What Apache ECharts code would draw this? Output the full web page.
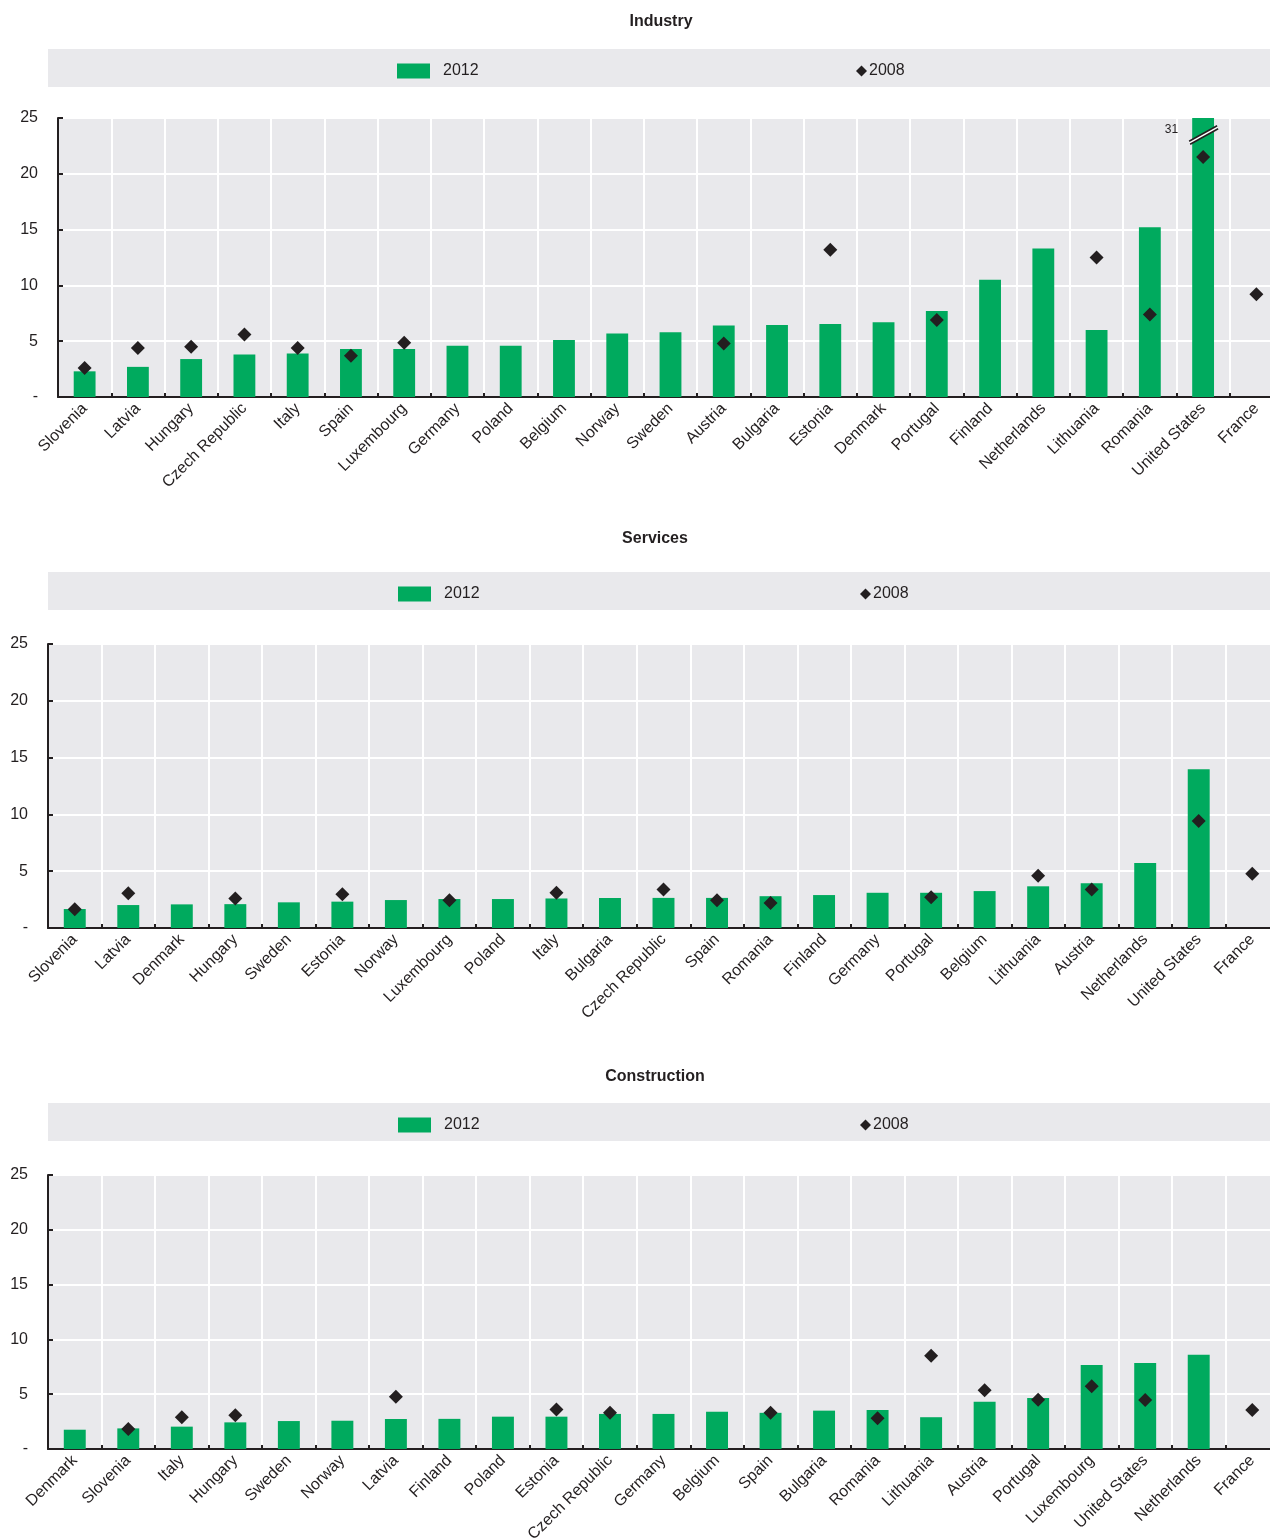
<!DOCTYPE html>
<html><head><meta charset="utf-8">
<script src="https://cdn.jsdelivr.net/npm/echarts@6/dist/echarts.min.js"></script>
<style>html,body{margin:0;padding:0;background:#fff;overflow:hidden}#c{width:1270px;height:1538px}</style>
</head><body><div id="c"></div>
<script>
// ---- Data ----
const indCats = ['Slovenia','Latvia','Hungary','Czech Republic','Italy','Spain','Luxembourg','Germany','Poland','Belgium','Norway','Sweden','Austria','Bulgaria','Estonia','Denmark','Portugal','Finland','Netherlands','Lithuania','Romania','United States','France'];
const ind2012 = [2.3,2.7,3.4,3.8,3.9,4.3,4.3,4.6,4.6,5.1,5.7,5.8,6.4,6.45,6.55,6.7,7.7,10.5,13.3,6.0,15.2,31,null];
const ind2008 = [2.6,4.4,4.5,5.6,4.4,3.7,4.85,null,null,null,null,null,4.8,null,13.2,null,6.9,null,null,12.5,7.4,21.5,9.2];

const srvCats = ['Slovenia','Latvia','Denmark','Hungary','Sweden','Estonia','Norway','Luxembourg','Poland','Italy','Bulgaria','Czech Republic','Spain','Romania','Finland','Germany','Portugal','Belgium','Lithuania','Austria','Netherlands','United States','France'];
const srv2012 = [1.67,2.02,2.08,2.1,2.26,2.32,2.46,2.55,2.55,2.6,2.64,2.65,2.65,2.8,2.9,3.1,3.1,3.25,3.67,3.93,5.72,13.97,null];
const srv2008 = [1.65,3.05,null,2.6,null,2.96,null,2.45,null,3.1,null,3.4,2.45,2.2,null,null,2.7,null,4.6,3.4,null,9.42,4.78];

const conCats = ['Denmark','Slovenia','Italy','Hungary','Sweden','Norway','Latvia','Finland','Poland','Estonia','Czech Republic','Germany','Belgium','Spain','Bulgaria','Romania','Lithuania','Austria','Portugal','Luxembourg','United States','Netherlands','France'];
const con2012 = [1.76,1.88,2.04,2.43,2.55,2.58,2.74,2.75,2.95,2.95,3.2,3.2,3.4,3.3,3.5,3.56,2.9,4.3,4.65,7.66,7.85,8.6,null];
const con2008 = [null,1.82,2.89,3.07,null,null,4.77,null,null,3.6,3.3,null,null,3.3,null,2.8,8.5,5.35,4.5,5.72,4.47,null,3.56];

const yTicks = [0,5,10,15,20,25];
const panelTitles = ['Industry','Services','Construction'];

// ---- Styles ----
const FONT = '"Liberation Sans", Arial, sans-serif';
const GREEN = '#00aa5e';
const DARK = '#231f20';
const BG = '#e9e9ec';
const TXT = '#231f20';

const panels = [
  {cats: indCats, v12: ind2012, v08: ind2008, left: 58, right: -13, top: 118, height: 279, titleY: 9, bandY: 49, leg12: 392, leg08: 851, titleX: 656},
  {cats: srvCats, v12: srv2012, v08: srv2008, left: 48, right: -9, top: 644, height: 284, titleY: 526, bandY: 572, leg12: 393, leg08: 855, titleX: 650},
  {cats: conCats, v12: con2012, v08: con2008, left: 48, right: -9, top: 1175, height: 274, titleY: 1064, bandY: 1103, leg12: 393, leg08: 855, titleX: 650}
];

const grid = [], xAxis = [], yAxis = [], series = [], legend = [], title = [], graphic = [];
panels.forEach((p, i) => {
  title.push({text: panelTitles[i], left: p.titleX, top: p.titleY, textAlign: 'center',
    textStyle: {fontFamily: FONT, fontSize: 16, fontWeight: 'bold', color: TXT}});
  graphic.push({type: 'rect', left: 48, top: p.bandY, shape: {width: 1240, height: 38}, style: {fill: BG}, z: -1});
  grid.push({left: p.left, right: p.right, top: p.top, height: p.height, show: true, backgroundColor: BG, borderWidth: 0,
    containLabel: false, outerBoundsMode: 'none'});
  xAxis.push({type: 'category', gridIndex: i, data: p.cats,
    axisLine: {lineStyle: {color: DARK, width: 2}},
    axisTick: {show: true, inside: true, length: 4, lineStyle: {color: DARK, width: 2}},
    splitLine: {show: true, lineStyle: {color: '#ffffff', width: 2}},
    axisLabel: {interval: 0, rotate: 45, fontFamily: FONT, fontSize: 16, color: TXT, margin: 9, hideOverlap: false}
  });
  yAxis.push({type: 'value', gridIndex: i, min: 0, max: 25, interval: 5,
    axisLine: {show: true, lineStyle: {color: DARK, width: 2}},
    axisTick: {show: true, inside: true, length: 5, lineStyle: {color: DARK, width: 2}},
    splitLine: {show: true, lineStyle: {color: '#ffffff', width: 2}},
    axisLabel: {fontFamily: FONT, fontSize: 16, color: TXT, margin: 20,
      formatter: v => (v === 0 ? '-' : String(v))}
  });
  series.push({name: '2012', type: 'bar', xAxisIndex: i, yAxisIndex: i, data: p.v12,
    barWidth: '41%', itemStyle: {color: GREEN}, clip: true, z: 2});
  series.push({name: '2008', type: 'scatter', xAxisIndex: i, yAxisIndex: i, data: p.v08,
    symbol: 'diamond', symbolSize: 14, itemStyle: {color: DARK, opacity: 1}, z: 4});
  legend.push({data: [{name: '2012', icon: 'rect'}], left: p.leg12, top: p.bandY + 9,
    itemWidth: 33, itemHeight: 15, itemGap: 10, textStyle: {fontFamily: FONT, fontSize: 16, color: TXT, padding: [0,0,0,8]}});
  legend.push({data: [{name: '2008', icon: 'diamond'}], left: p.leg08, top: p.bandY + 9,
    itemWidth: 11, itemHeight: 11, textStyle: {fontFamily: FONT, fontSize: 16, color: TXT, padding: [0,0,0,-3]}});
});

// Axis-break marker for the truncated United States bar in Industry
const usIdx = indCats.indexOf('United States');
series.push({
  type: 'custom', xAxisIndex: 0, yAxisIndex: 0, clip: false, z: 5, silent: true,
  data: [[usIdx, 23.5]],
  renderItem: function (params, api) {
    const c = api.coord([api.value(0), api.value(1)]);
    const x = c[0], y = c[1];
    return {type: 'group', children: [
      {type: 'polygon', shape: {points: [[x-14, y+6.5], [x+14, y-9], [x+15, y-6], [x-13, y+9.5]]}, style: {fill: '#ffffff'}},
      {type: 'line', shape: {x1: x-14, y1: y+6.5, x2: x+14, y2: y-9}, style: {stroke: DARK, lineWidth: 1.6}},
      {type: 'line', shape: {x1: x-13, y1: y+9.5, x2: x+15, y2: y-6}, style: {stroke: DARK, lineWidth: 1.6}},
      {type: 'text', style: {text: String(ind2012[usIdx]), x: x-25, y: y-5, align: 'right', verticalAlign: 'middle',
        fill: TXT, font: '12px ' + FONT}}
    ]};
  }
});

const chart = echarts.init(document.getElementById('c'), null, {renderer: 'canvas'});
chart.setOption({
  animation: false,
  backgroundColor: '#ffffff',
  title, grid, xAxis, yAxis, series, legend, graphic
});
</script>
</body></html>
